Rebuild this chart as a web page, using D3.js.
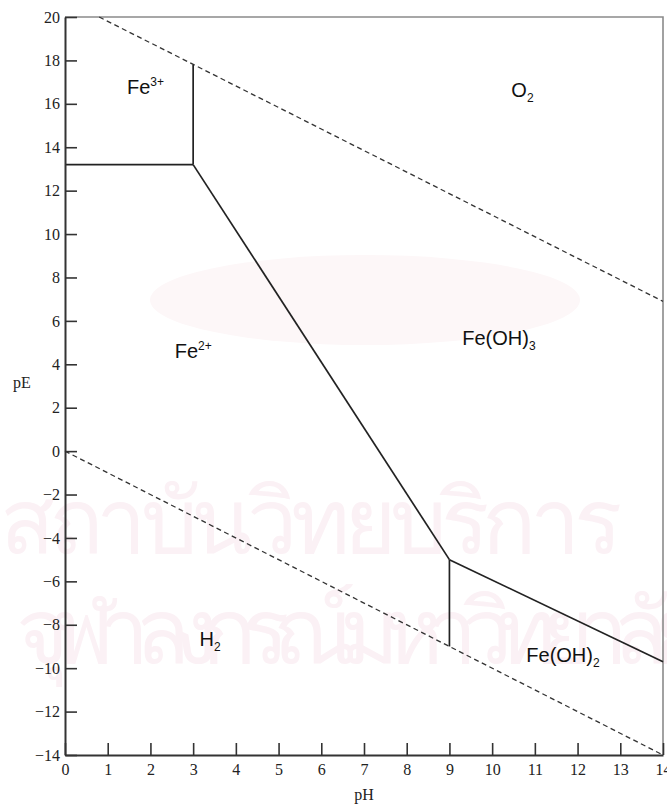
<!DOCTYPE html>
<html>
<head>
<meta charset="utf-8">
<script src="https://cdn.jsdelivr.net/npm/d3@7"></script>
<style>
  body { margin: 0; background: #fff; }
  svg { display: block; }
</style>
</head>
<body>
<div id="chart"></div>
<script>
// axis ticks
const pHTicks = [0, 1, 2, 3, 4, 5, 6, 7, 8, 9, 10, 11, 12, 13, 14];
const pETicks = [-14, -12, -10, -8, -6, -4, -2, 0, 2, 4, 6, 8, 10, 12, 14, 16, 18, 20];

// water stability limits (dashed)
const o2Limit = [[0.8, 20], [14, 6.9]];
const h2Limit = [[0, 0], [14, -14]];

// solid phase boundaries
const fe3Fe2 = [[0, 13.2], [3, 13.2]];
const fe3FeOH3 = [[3, 13.2], [3, 17.8]];
const fe2FeOH3 = [[3, 13.2], [9, -5]];
const fe2FeOH2 = [[9, -5], [9, -9]];
const feOH3FeOH2 = [[9, -5], [14, -9.7]];

// region labels
const regionNames = ["Fe", "O", "Fe", "Fe(OH)", "H", "Fe(OH)"];
const regionScripts = ["3+", "2", "2+", "3", "2", "2"];
const regionKinds = ["sup", "sub", "sup", "sub", "sub", "sub"];
const regionPH = [1.45, 10.45, 2.57, 9.3, 3.15, 10.8];
const regionPE = [16.45, 16.3, 4.3, 4.9, -9.0, -9.7];

const margin = { top: 17, right: 3, bottom: 52, left: 65 },
    width = 667 - margin.left - margin.right,
    height = 807 - margin.top - margin.bottom;

const root = d3.select("#chart")
    .append("svg")
        .attr("width", 667)
        .attr("height", 807);

// faint scanned watermark behind the chart
const wm = root.append("g").attr("fill", "#fbf1f5");
wm.append("ellipse")
    .attr("cx", 365).attr("cy", 300)
    .attr("rx", 215).attr("ry", 45)
    .attr("fill", "#fdf7f8");
wm.append("text")
    .attr("x", 0).attr("y", 553)
    .attr("textLength", 622)
    .style("font-family", "'Noto Sans', 'DejaVu Sans', sans-serif")
    .style("font-size", "90px")
    .text("สถาบันวิทยบริการ");
wm.append("text")
    .attr("x", 0).attr("y", 663)
    .attr("textLength", 690)
    .style("font-family", "'Noto Sans', 'DejaVu Sans', sans-serif")
    .style("font-size", "90px")
    .text("จุฬาลงกรณ์มหาวิทยาลัย");

const svg = root.append("g")
    .attr("transform", `translate(${margin.left},${margin.top})`);

const x = d3.scaleLinear()
    .domain([0, 14])
    .range([0, width - 1]);

const y = d3.scaleLinear()
    .domain([-14, 20])
    .range([height, 0]);

// frame top + right
svg.append("path")
    .attr("d", `M0,${y(20)}H${x(14)}V${y(-14)}`)
    .attr("fill", "none")
    .attr("stroke", "#8a8a8a")
    .attr("stroke-width", 1.6);

const line = d3.line()
    .x(d => x(d[0]))
    .y(d => y(d[1]));

[o2Limit, h2Limit].forEach(seg => {
    svg.append("path")
        .datum(seg)
        .attr("fill", "none")
        .attr("stroke", "#333")
        .attr("stroke-width", 1.3)
        .attr("stroke-dasharray", "5,3.5")
        .attr("d", line);
});

[fe3Fe2, fe3FeOH3, fe2FeOH3, fe2FeOH2, feOH3FeOH2].forEach(seg => {
    svg.append("path")
        .datum(seg)
        .attr("fill", "none")
        .attr("stroke", "#222")
        .attr("stroke-width", 1.7)
        .attr("d", line);
});

// axes
const xAxisGroup = svg.append("g")
    .attr("transform", `translate(0,${height})`)
    .call(d3.axisBottom(x).tickValues(pHTicks).tickFormat(d3.format("d"))
        .tickSizeInner(-12).tickSizeOuter(0).tickPadding(9));

const yAxisGroup = svg.append("g")
    .call(d3.axisLeft(y).tickValues(pETicks).tickFormat(d3.format("d"))
        .tickSizeInner(-12).tickSizeOuter(0).tickPadding(5));

[xAxisGroup, yAxisGroup].forEach(g => {
    g.selectAll("path").style("stroke", "#333").style("stroke-width", 2);
    g.selectAll("line").style("stroke", "#333").style("stroke-width", 1.6);
    g.selectAll("text")
        .style("fill", "#222")
        .style("font-family", "'Liberation Serif', 'Times New Roman', serif")
        .style("font-size", "16px");
});

svg.append("text")
    .attr("x", x(7))
    .attr("y", height + 45)
    .attr("text-anchor", "middle")
    .style("font-family", "'Liberation Serif', serif")
    .style("font-size", "16px")
    .style("fill", "#222")
    .text("pH");

svg.append("text")
    .attr("x", 13 - margin.left)
    .attr("y", 388 - margin.top)
    .style("font-family", "'Liberation Serif', serif")
    .style("font-size", "16px")
    .style("fill", "#222")
    .text("pE");

// region labels
regionNames.forEach((name, i) => {
    const t = svg.append("text")
        .attr("x", x(regionPH[i]))
        .attr("y", y(regionPE[i]))
        .style("font-family", "'Liberation Sans', Arial, sans-serif")
        .style("font-size", "20px")
        .style("fill", "#111");
    t.append("tspan").text(name);
    t.append("tspan")
        .attr("dy", regionKinds[i] === "sup" ? -8 : 5)
        .style("font-size", "12px")
        .text(regionScripts[i]);
});
</script>
</body>
</html>
